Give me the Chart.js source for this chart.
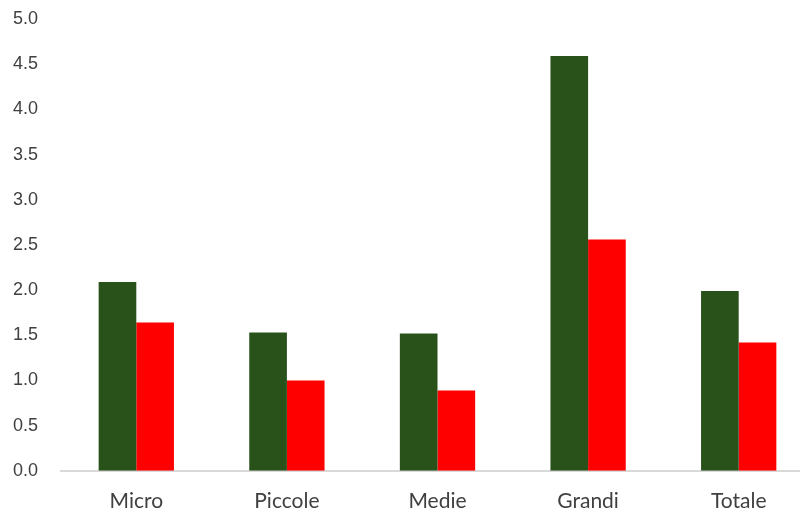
<!DOCTYPE html>
<html>
<head>
<meta charset="utf-8">
<script src="https://cdn.jsdelivr.net/npm/chart.js@4/dist/chart.umd.min.js"></script>
<style>
html,body{margin:0;padding:0;background:#fff;overflow:hidden;}
#wrap{width:814px;height:513px;position:relative;}
</style>
</head>
<body>
<div id="wrap"><canvas id="c"></canvas></div>
<script>
const categories = ["Micro", "Piccole", "Medie", "Grandi", "Totale"];
const seriesGreen = [2.09, 1.53, 1.52, 4.59, 1.99];
const seriesRed = [1.64, 1.00, 0.89, 2.56, 1.42];

new Chart(document.getElementById('c'), {
  type: 'bar',
  data: {
    labels: categories,
    datasets: [
      { label: 'Serie 1', data: seriesGreen, backgroundColor: '#29521a', borderWidth: 0, categoryPercentage: 0.5, barPercentage: 1.0 },
      { label: 'Serie 2', data: seriesRed, backgroundColor: '#ff0000', borderWidth: 0, categoryPercentage: 0.5, barPercentage: 1.0 }
    ]
  },
  options: {
    responsive: true,
    maintainAspectRatio: false,
    animation: false,
    layout: { padding: { top: 19, bottom: -19, left: 13, right: 0 } },
    plugins: { legend: { display: false }, tooltip: { enabled: false } },
    scales: {
      x: {
        grid: { display: false, drawTicks: false },
        border: { display: true, color: '#d9d9d9', width: 2 },
        ticks: { color: '#404040', font: { family: 'Lato', size: 21 }, padding: 18 }
      },
      y: {
        min: 0, max: 5,
        grid: { display: false, drawTicks: false },
        border: { display: false },
        ticks: { stepSize: 0.5, color: '#404040', font: { family: 'Liberation Sans', size: 18 }, padding: 0, crossAlign: 'far',
          callback: v => Number(v).toFixed(1) },
        afterFit: s => { s.width = 48; }
      }
    }
  }
});
</script>
</body>
</html>
